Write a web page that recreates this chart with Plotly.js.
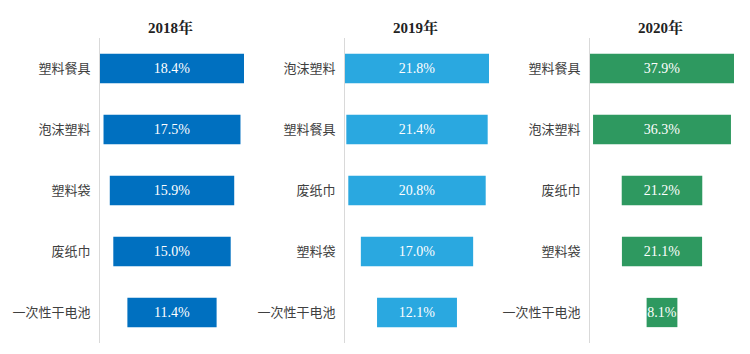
<!DOCTYPE html>
<html>
<head>
<meta charset="utf-8">
<script src="https://cdn.plot.ly/plotly-3.0.1.min.js"></script>
<style>html,body{margin:0;padding:0;background:#fff;}#chart{width:750px;height:354px;}</style>
</head>
<body>
<div id="chart"></div>
<script>
// Data
const years = ["2018年", "2019年", "2020年"];
const cats2018 = ["塑料餐具", "泡沫塑料", "塑料袋", "废纸巾", "一次性干电池"];
const vals2018 = [18.4, 17.5, 15.9, 15.0, 11.4];
const cats2019 = ["泡沫塑料", "塑料餐具", "废纸巾", "塑料袋", "一次性干电池"];
const vals2019 = [21.8, 21.4, 20.8, 17.0, 12.1];
const cats2020 = ["塑料餐具", "泡沫塑料", "废纸巾", "塑料袋", "一次性干电池"];
const vals2020 = [37.9, 36.3, 21.2, 21.1, 8.1];
const colors = ["#0070C0", "#2AA8E0", "#2E9960"];

const W = 750, H = 354;
const panels = [
  {cats: cats2018, vals: vals2018, x0: 100},
  {cats: cats2019, vals: vals2019, x0: 345},
  {cats: cats2020, vals: vals2020, x0: 590}
];
const barW = 144;
const yTop = 38, yBot = 343;

const traces = [];
const layout = {
  width: W, height: H,
  margin: {l: 0, r: 0, t: 0, b: 0},
  paper_bgcolor: "#ffffff", plot_bgcolor: "rgba(0,0,0,0)",
  showlegend: false,
  funnelgap: 0.52,
  annotations: []
};

panels.forEach((p, i) => {
  const suf = i === 0 ? "" : String(i + 1);
  const m = Math.max(...p.vals);
  traces.push({
    type: "funnel",
    x: p.vals,
    y: p.cats,
    xaxis: "x" + suf,
    yaxis: "y" + suf,
    marker: {color: colors[i]},
    connector: {visible: false},
    text: p.vals.map(v => v.toFixed(1) + "%"),
    textinfo: "text",
    textposition: "inside",
    insidetextanchor: "middle",
    textfont: {family: "Liberation Serif, Times New Roman, serif", size: 14, color: "#ffffff"},
    constraintext: "none",
    hoverinfo: "skip"
  });
  layout["xaxis" + suf] = {
    domain: [p.x0 / W, (p.x0 + barW) / W],
    range: [-m / 2, m / 2],
    visible: false,
    fixedrange: true,
    anchor: "y" + suf
  };
  layout["yaxis" + suf] = {
    domain: [1 - yBot / H, 1 - yTop / H],
    anchor: "x" + suf,
    autorange: false,
    range: [4.5, -0.5],
    type: "category",
    showline: true,
    linecolor: "#D9D9D9",
    linewidth: 1,
    showgrid: false,
    zeroline: false,
    ticks: "",
    ticklabelstandoff: 6,
    tickfont: {family: "Noto Sans CJK SC, sans-serif", size: 13, color: "#404040"}
  };
  layout.annotations.push({
    text: "<b>" + years[i] + "</b>",
    xref: "paper", yref: "paper",
    x: (p.x0 + barW / 2 - 2) / W, y: 1 - 27 / H,
    xanchor: "center", yanchor: "middle",
    showarrow: false,
    font: {family: "Liberation Serif, Noto Serif CJK SC, Noto Sans CJK SC, serif", size: 15, color: "#222222"}
  });
});

Plotly.newPlot("chart", traces, layout, {staticPlot: true, displayModeBar: false});
</script>
</body>
</html>
